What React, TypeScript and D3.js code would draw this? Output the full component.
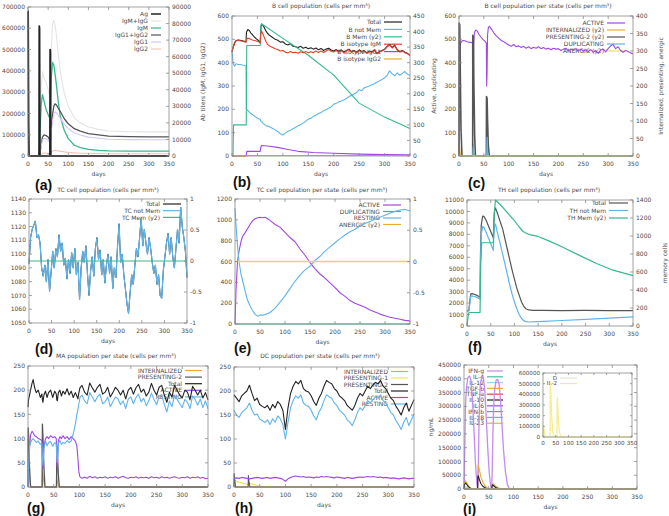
import React from 'react';
import * as d3 from 'd3';

const DAY_TICKS = [0, 50, 100, 150, 200, 250, 300, 350];

// ---------------- (a) antigen & antibodies ----------------
const aAgDays = [0, 0.3, 1.5, 2.5, 27.5, 28, 28.6, 29.5, 54.5, 55, 55.6, 56.5, 350];
const aAgVals = [680000, 680000, 150000, 0, 0, 610000, 600000, 0, 0, 500000, 490000, 0, 0];
const aAbDays = [0, 25, 28, 30, 33, 36, 40, 45, 50, 54, 56, 58, 61, 64, 67, 70, 75, 80, 90, 100, 115, 130, 150, 175, 200, 250, 300, 350];
const aIgMIgG = [0, 0, 2000, 20000, 42000, 51000, 47000, 44000, 40000, 36000, 42000, 66000, 80000, 82000, 79000, 74000, 62000, 51000, 38000, 30000, 23000, 20000, 17500, 16100, 15100, 14700, 14600, 14600];
const aIgM = [0, 0, 1500, 16000, 32000, 37000, 33000, 28000, 25000, 23000, 30000, 48000, 56500, 55000, 50000, 44000, 33000, 24000, 15500, 10500, 6500, 5000, 4000, 3400, 3100, 3000, 3000, 3000];
const aIgG12 = [0, 0, 0, 2000, 7500, 11500, 12700, 12300, 11500, 9500, 10000, 18000, 25000, 30000, 31500, 31000, 29000, 27000, 22500, 19500, 16500, 15000, 13500, 12700, 12000, 11700, 11600, 11600];
const aIgG1 = [0, 0, 0, 1700, 6300, 9700, 10700, 10400, 9700, 8000, 8500, 15000, 21000, 25500, 26700, 26300, 24600, 22900, 19100, 16500, 14000, 12700, 11400, 10700, 10100, 9900, 9800, 9800];
const aIgG2 = [0, 0, 0, 300, 1000, 1600, 1800, 1700, 1600, 1400, 1300, 2400, 3000, 3300, 3400, 3300, 3100, 2900, 2500, 2200, 1900, 1700, 1600, 1500, 1400, 1400, 1400, 1400];

// ---------------- (b) B cell population ----------------
const bDays = [0, 2, 5, 8, 12, 16, 20, 24, 27.5, 28.5, 31, 34, 37, 40, 44, 48, 52, 55.5, 56.5, 58, 61, 64, 67, 70,
  75, 80, 85, 90, 95, 100, 105, 110, 115, 120, 125, 130, 135, 140, 145, 150, 155, 160, 165, 170, 175, 180, 185, 190, 195, 200,
  205, 210, 215, 220, 225, 230, 235, 240, 245, 250, 255, 260, 265, 270, 275, 280, 285, 290, 295, 300, 305, 310, 315, 320, 325, 330, 335, 340, 345, 350];
const bTotal = [446, 465, 485, 495, 497, 496, 494, 492, 490, 530, 542, 538, 527, 520, 510, 502, 495, 485, 540, 565, 560, 548, 535, 525,
  515, 508, 500, 496, 488, 490, 480, 476, 482, 470, 468, 465, 470, 462, 466, 460, 464, 458, 463, 455, 461, 452, 458, 462, 454, 450,
  456, 448, 455, 445, 452, 458, 447, 452, 444, 455, 448, 452, 442, 450, 446, 455, 440, 448, 452, 458, 470, 478, 465, 475, 455, 448, 452, 445, 440, 432];
const bIgM = [446, 462, 482, 493, 496, 494, 492, 490, 488, 500, 505, 503, 500, 497, 495, 493, 490, 486, 520, 536, 522, 505, 490, 478,
  470, 465, 460, 456, 450, 452, 445, 442, 448, 443, 445, 440, 447, 442, 448, 442, 447, 443, 450, 444, 450, 444, 450, 456, 448, 446,
  452, 445, 451, 442, 450, 455, 445, 450, 442, 452, 446, 450, 440, 448, 444, 452, 438, 446, 450, 456, 468, 476, 463, 472, 453, 446, 450, 443, 438, 430];
const bNotMem = [452, 400, 385, 395, 392, 392, 390, 388, 385, 200, 195, 188, 182, 178, 172, 165, 160, 158, 150, 148, 140, 135, 130, 128,
  124, 118, 112, 105, 95, 90, 98, 106, 110, 118, 122, 130, 134, 142, 148, 158, 162, 170, 175, 182, 186, 194, 198, 205, 210, 222,
  226, 232, 236, 240, 246, 255, 260, 266, 272, 285, 280, 292, 296, 300, 305, 310, 316, 322, 328, 335, 345, 365, 352, 344, 356, 346, 354, 362, 350, 346];
const bMemDays = [0, 2, 3, 28, 29, 55.5, 57, 58, 100, 150, 200, 250, 300, 350];
const bMem = [0, 0, 100, 100, 355, 355, 420, 425, 378, 324, 260, 170, 125, 88];
const bIgG1Days = [0, 28, 29, 55.5, 57, 58, 70, 90, 110, 130, 160, 200, 250, 300, 350];
const bIgG1 = [0, 0, 20, 20, 40, 45, 43, 37, 28, 20, 15, 12, 8, 6, 5];
const bIgG2Days = [0, 28, 29, 350];
const bIgG2 = [0, 0, 2, 2];

// ---------------- (c) B cell per state ----------------
const cActDays = [0, 0.8, 1.5, 3, 5, 8, 12, 16, 20, 24, 27, 27.6, 28.4, 29.5, 31, 34, 37, 40, 44, 48, 52, 55, 55.6, 56.4, 57.5, 59, 61, 64, 67, 70,
  75, 80, 85, 90, 95, 100, 105, 110, 115, 120, 125, 130, 135, 140, 145, 150, 155, 160, 165, 170, 175, 180, 185, 190, 195, 200,
  205, 210, 215, 220, 225, 230, 235, 240, 245, 250, 255, 260, 265, 270, 275, 280, 285, 290, 295, 300, 305, 310, 315, 320, 325, 330, 335, 340, 345, 350];
const cAct = [0, 250, 420, 480, 492, 495, 494, 490, 488, 487, 485, 200, 250, 480, 530, 540, 535, 522, 510, 500, 492, 485, 300, 350, 520, 550, 556, 548, 538, 528,
  515, 505, 495, 490, 482, 476, 470, 478, 468, 472, 465, 470, 462, 468, 460, 466, 462, 468, 460, 465, 458, 462, 455, 462, 458, 460,
  452, 458, 462, 450, 458, 455, 460, 450, 458, 450, 455, 448, 456, 445, 452, 440, 454, 458, 446, 460, 472, 478, 460, 468, 452, 445, 452, 448, 442, 438];
const cPresDays = [0, 0.2, 1.5, 2.5, 4, 6, 27.5, 27.8, 29, 30, 31.5, 33, 55, 55.3, 56.5, 57.5, 59, 61, 350];
const cPres = [0, 380, 375, 250, 80, 0, 0, 345, 340, 200, 60, 0, 0, 170, 165, 100, 30, 0, 0];
const cIntDays = [0, 0.3, 1.5, 3, 27.5, 28, 29, 31, 55, 55.5, 56.5, 58, 350];
const cInt = [0, 40, 20, 0, 0, 35, 15, 0, 0, 25, 10, 0, 0];
const cDupDays = [0, 27.5, 28.5, 30, 55.5, 56.5, 58, 350];
const cDup = [0, 0, 40, 0, 0, 80, 0, 0];
const flatDays = [0, 350];
const flatZero = [0, 0];

// ---------------- (d) TC cell population ----------------
const dDays = d3.range(0, 350.01, 3.5);
const dTotal = [1093, 1112, 1118, 1121, 1124, 1112, 1114, 1108, 1090, 1084,
  1092, 1080, 1096, 1073, 1087, 1102, 1090, 1104, 1098, 1114,
  1102, 1108, 1092, 1097, 1082, 1096, 1086, 1101, 1090, 1104,
  1085, 1094, 1067, 1090, 1102, 1094, 1106, 1086, 1070, 1088,
  1098, 1084, 1104, 1112, 1096, 1103, 1085, 1096, 1079, 1092,
  1100, 1086, 1098, 1075, 1090, 1083, 1105, 1122, 1094, 1100,
  1085, 1075, 1064, 1057, 1072, 1085, 1078, 1092, 1104, 1098,
  1112, 1126, 1106, 1118, 1108, 1100, 1112, 1104, 1094, 1086,
  1092, 1078, 1085, 1070, 1068, 1088, 1098, 1108, 1115, 1100,
  1112, 1098, 1090, 1104, 1118, 1108, 1134, 1120, 1112, 1102,
  1083];

// ---------------- (e) TC per state ----------------
const eActDays = [0, 2, 5, 8, 12, 15, 20, 25, 30, 35, 40, 45, 50, 55, 60, 65, 70, 75, 80, 90, 100, 110, 120, 130, 140, 150, 160, 170, 180, 190, 200, 210, 220, 230, 240, 250, 260, 270, 280, 290, 300, 310, 320, 330, 340, 350];
const eAct = [0, 320, 600, 700, 790, 840, 875, 915, 955, 990, 1010, 1020, 1025, 1020, 1025, 1010, 995, 975, 955, 930, 880, 830, 790, 720, 660, 590, 530, 480, 440, 395, 350, 300, 265, 225, 200, 180, 160, 135, 115, 95, 80, 65, 55, 45, 35, 30];
const eRestDays = [0, 2, 5, 8, 12, 15, 20, 25, 30, 35, 40, 45, 50, 55, 60, 70, 80, 90, 100, 110, 120, 130, 140, 150, 160, 170, 180, 190, 200, 210, 220, 230, 240, 250, 260, 270, 280, 290, 300, 310, 320, 330, 340, 350];
const eRest = [1110, 950, 750, 600, 480, 420, 320, 230, 175, 130, 95, 75, 85, 85, 90, 110, 150, 210, 270, 340, 410, 470, 520, 555, 610, 650, 700, 740, 780, 820, 855, 885, 910, 940, 965, 985, 1005, 1025, 1045, 1065, 1080, 1095, 1100, 1085];

// ---------------- (f) TH cell population ----------------
const fTotDays = [0, 4, 6, 8, 12, 20, 27.5, 28.5, 30, 33, 36, 40, 45, 50, 55.5, 56.5, 58, 60, 65, 70, 75, 80, 85, 90, 95, 100, 105, 110, 115, 120, 125, 130, 140, 160, 200, 250, 300, 350];
const fTot = [1300, 1350, 2200, 2800, 2820, 2700, 2500, 6500, 8800, 9600, 9550, 9250, 8750, 8250, 7700, 9000, 10000, 10300, 9750, 9100, 8500, 7600, 6700, 5800, 4900, 4100, 3300, 2700, 2100, 1700, 1480, 1400, 1370, 1360, 1350, 1360, 1340, 1350];
const fNotDays = [0, 4, 6, 8, 12, 20, 27.5, 28.5, 30, 33, 36, 40, 45, 50, 55.5, 56.5, 58, 60, 65, 70, 75, 80, 85, 90, 95, 100, 105, 110, 115, 120, 125, 130, 150, 200, 250, 300, 350];
const fNot = [1300, 1320, 2000, 2600, 2620, 2520, 2350, 6000, 8000, 8700, 8600, 8200, 7700, 7200, 6600, 7800, 8700, 8900, 8000, 7200, 6300, 5400, 4500, 3600, 2800, 2100, 1500, 1000, 650, 450, 380, 350, 380, 480, 580, 680, 800];
const fMemDays = [0, 3, 5, 27.5, 29, 31, 55.5, 57.5, 60, 70, 80, 90, 100, 110, 118, 125, 132, 150, 175, 200, 237, 273, 308, 350];
const fMem = [0, 140, 150, 150, 700, 925, 925, 1250, 1400, 1350, 1290, 1230, 1170, 1100, 1050, 1030, 1015, 995, 940, 880, 785, 695, 620, 560];

// ---------------- (g) MA per state ----------------
const gDays = [0, 1, 3, 5, 8, 10, 13, 16, 20, 24, 27, 28, 29, 31, 34, 37, 40, 44, 48, 52, 55, 56, 57, 59, 62, 65, 68, 72, 76, 80, 84, 88, 92, 95, 97, 99, 101,
  105, 110, 115, 120, 125, 130, 135, 140, 145, 150, 155, 160, 165, 170, 175, 180, 185, 190, 195, 200, 205, 210, 215, 220, 225,
  230, 235, 240, 245, 250, 255, 260, 265, 270, 275, 280, 285, 290, 295, 300, 305, 310, 315, 320, 325, 330, 335, 340, 345, 350];
const gTotal = [165, 180, 190, 200, 215, 222, 205, 195, 200, 185, 192, 180, 175, 190, 198, 185, 195, 200, 185, 198, 192, 180, 178, 195, 200, 188, 198, 192, 203, 190, 198, 185, 195, 188, 182, 195, 205,
  210, 196, 190, 215, 205, 196, 206, 212, 192, 196, 206, 186, 195, 206, 200, 190, 200, 182, 200, 206, 192, 205, 212, 196, 202,
  188, 196, 214, 200, 190, 206, 210, 190, 175, 196, 186, 210, 200, 190, 184, 200, 196, 180, 208, 200, 190, 200, 184, 195, 180];
const gActive = [0, 20, 80, 108, 115, 112, 106, 104, 100, 98, 96, 60, 40, 85, 100, 104, 100, 106, 102, 104, 100, 50, 40, 95, 104, 100, 106, 100, 104, 98, 104, 100, 95, 85, 60, 30, 21,
  18, 20, 18, 22, 19, 21, 18, 20, 19, 21, 18, 20, 19, 21, 18, 20, 22, 19, 18, 20, 19, 21, 18, 20, 19,
  20, 18, 21, 19, 20, 18, 21, 19, 20, 18, 20, 21, 19, 18, 20, 19, 21, 18, 20, 19, 21, 18, 20, 17, 18];
const gResting = [0, 40, 85, 92, 98, 100, 96, 92, 95, 88, 90, 60, 45, 80, 95, 85, 92, 94, 84, 92, 88, 60, 50, 90, 96, 88, 92, 90, 96, 92, 95, 110, 130, 150, 160, 172, 185,
  190, 178, 172, 195, 186, 176, 186, 192, 172, 176, 186, 166, 176, 186, 182, 170, 178, 162, 182, 186, 172, 185, 192, 176, 183,
  168, 178, 194, 181, 170, 188, 190, 171, 155, 178, 166, 190, 181, 172, 164, 181, 175, 162, 188, 181, 169, 182, 164, 178, 162];
const gIntDays = [0, 0.5, 2, 4, 6, 27.5, 28, 29.5, 31.5, 33, 55, 55.5, 57, 59, 61, 350];
const gInt = [0, 35, 25, 8, 0, 0, 30, 20, 5, 0, 0, 20, 12, 3, 0, 0];
const gPresDays = [0, 0.4, 1.5, 3, 5, 27.5, 28, 29, 31, 33, 55.5, 56, 57, 59, 61, 350];
const gPres = [0, 122, 100, 40, 0, 0, 130, 105, 40, 0, 0, 86, 70, 25, 0, 0];

// ---------------- (h) DC per state ----------------
const hDays = d3.range(0, 351, 5);
const hTotal = [192, 185, 178, 190, 195, 200, 212, 195, 180, 185,
  172, 168, 165, 170, 160, 172, 165, 178, 172, 160,
  120, 165, 195, 210, 220, 215, 222, 205, 200, 198,
  190, 178, 170, 185, 195, 210, 222, 218, 215, 205,
  200, 190, 185, 180, 170, 165, 160, 170, 185, 195,
  190, 200, 210, 205, 212, 218, 215, 222, 210, 205,
  195, 185, 180, 168, 160, 150, 165, 175, 158, 170,
  182];
const hResting = [160, 150, 145, 155, 160, 165, 175, 160, 150, 152,
  142, 138, 134, 140, 130, 142, 135, 148, 142, 130,
  100, 135, 165, 180, 190, 185, 192, 175, 170, 168,
  160, 148, 140, 155, 165, 180, 192, 188, 185, 175,
  170, 160, 155, 150, 140, 135, 128, 140, 155, 165,
  160, 170, 180, 175, 182, 188, 185, 192, 180, 175,
  165, 155, 150, 138, 130, 120, 135, 145, 128, 140,
  152];
const hActive = [18, 19, 18, 20, 19, 18, 17, 18, 19, 20,
  19, 18, 19, 20, 18, 19, 20, 19, 18, 16,
  12, 17, 20, 22, 23, 22, 21, 22, 20, 21,
  20, 19, 21, 20, 22, 21, 22, 21, 20, 19,
  21, 20, 19, 18, 20, 19, 18, 19, 20, 21,
  20, 21, 22, 21, 22, 21, 20, 21, 19, 20,
  19, 18, 19, 18, 17, 18, 19, 18, 17, 18,
  18];
const hIntDays = [0, 0.5, 3, 27.5, 28, 30, 350];
const hInt = [0, 6, 0, 0, 5, 0, 0];
const hP1Days = [0, 1, 5, 10, 20, 28, 29, 35, 45, 60, 350];
const hP1 = [0, 14, 12, 10, 7, 5, 9, 6, 3, 0, 0];
const hP2Days = [0, 0.3, 1.5, 3, 27.5, 28, 29, 31, 350];
const hP2 = [0, 28, 15, 0, 0, 24, 12, 0, 0];

// ---------------- (i) cytokines ----------------
const iIfngDays = [0, 1, 2, 3, 5, 8, 11, 14, 17, 20, 23, 26, 27.5, 28, 29, 30, 31.5, 33, 36, 39, 42, 45, 48, 51, 54, 56, 57, 58.5, 60, 62, 65, 68, 71, 74, 77, 80, 84, 88, 92, 350];
const iIfng = [0, 80000, 200000, 300000, 370000, 405000, 410000, 395000, 330000, 220000, 100000, 20000, 0,
  0, 80000, 200000, 320000, 380000, 408000, 405000, 360000, 260000, 150000, 60000, 10000, 0,
  60000, 200000, 300000, 360000, 395000, 398000, 380000, 320000, 230000, 140000, 60000, 15000, 0, 0];
const iTgfDays = [0, 1, 3, 6, 10, 15, 27.5, 28, 29, 31, 34, 38, 43, 50, 56, 57, 59, 63, 68, 75, 350];
const iTgf = [0, 25000, 30000, 22000, 10000, 0, 0, 60000, 88000, 70000, 45000, 25000, 10000, 0, 0, 15000, 18000, 12000, 5000, 0, 0];
const iIl10Days = [0, 1, 3, 5, 8, 12, 18, 27.5, 28, 29, 31, 34, 38, 45, 56, 57, 58, 61, 65, 72, 350];
const iIl10 = [0, 15000, 22000, 18000, 10000, 4000, 0, 0, 45000, 48000, 35000, 20000, 10000, 2000, 0, 12000, 15000, 10000, 4000, 0, 0];
const iIl12Days = [0, 2, 5, 10, 15, 56, 58, 61, 66, 72, 350];
const iIl12 = [0, 8000, 6000, 2000, 0, 0, 15000, 12000, 5000, 0, 0];
const iIl2Days = [0, 0.5, 2, 4, 7, 10, 14, 28, 28.5, 30, 32, 35, 38, 42, 46, 55, 55.5, 57, 59, 62, 66, 72, 350];
const iIl2 = [0, 90000, 106000, 70000, 30000, 8000, 0, 0, 480000, 510000, 330000, 160000, 60000, 15000, 0, 0, 300000, 370000, 230000, 100000, 30000, 0, 0];

const range = (a: number, b: number, s: number) => d3.range(a, b + s / 2, s);

// ---------------- colours ----------------
const K = {
  black: '#222222', grey: '#555555', purple: '#a247e4', green: '#36b98c', blue: '#5fb4ea',
  orange: '#efaa35', yellow: '#efe35a', red: '#e6402c', light: '#e4e4e4', lav: '#d4c8f6', pink: '#f6c4b6',
  violet: '#c48bf2', teal: '#3fc2a8', sky: '#8fd2f2', navy: '#5a2aa8'
};

const FONT = 'DejaVu Sans, Verdana, sans-serif';
const TXT = '#4a4a4a';
const AX = '#8a8a8a';

type S = { x: number[]; y: number[]; c: string; w?: number; y2?: boolean };
type L = { t: string; c: string; w?: number };
type P = {
  id: string; l: number; r: number; t: number; b: number;
  yDom: [number, number]; yTicks: number[];
  y2Dom?: [number, number]; y2Ticks?: number[];
  series: S[]; legend: L[]; legX: number; legY: number; legDy: number; legW: number;
  fs?: number; days?: boolean; bg?: boolean; tick?: number; xOff?: number; yOff?: number;
};

function Panel(p: P) {
  const x = d3.scaleLinear().domain([0, 350]).range([p.l, p.r]);
  const y = d3.scaleLinear().domain(p.yDom).range([p.b, p.t]);
  const y2 = p.y2Dom ? d3.scaleLinear().domain(p.y2Dom).range([p.b, p.t]) : null;
  const fs = p.fs ?? 6;
  const tk = p.tick ?? 3;
  const xOff = p.xOff ?? 8;
  const yOff = p.yOff ?? 3;
  const clip = `clip-${p.id}`;
  return (
    <g fontFamily={FONT} fontSize={fs} fill={TXT}>
      <clipPath id={clip}>
        <rect x={p.l - 1} y={p.t - 1} width={p.r - p.l + 2} height={p.b - p.t + 2} />
      </clipPath>
      {p.bg && <rect x={p.l} y={p.t} width={p.r - p.l} height={p.b - p.t} fill="#fff" />}
      {p.legend.map((e, i) => {
        const ly = p.legY + i * p.legDy;
        return (
          <g key={'lg' + i}>
            <text x={p.legX} y={ly} dy="0.35em" textAnchor="end">{e.t}</text>
            <line x1={p.legX + 3} x2={p.legX + 3 + p.legW} y1={ly} y2={ly} stroke={e.c} strokeWidth={e.w ?? 1.2} />
          </g>
        );
      })}
      <g clipPath={`url(#${clip})`}>
        {p.series.map((s, i) => {
          const sc = s.y2 && y2 ? y2 : y;
          const gen = d3.line<number>().x((_, j) => x(s.x[j])).y((v) => sc(v));
          return <path key={'s' + i} d={gen(s.y) || ''} fill="none" stroke={s.c} strokeWidth={s.w ?? 1.1} strokeLinejoin="round" />;
        })}
      </g>
      <rect x={p.l} y={p.t} width={p.r - p.l} height={p.b - p.t} fill="none" stroke={AX} strokeWidth={0.8} />
      {DAY_TICKS.map((v) => (
        <g key={'x' + v}>
          <line x1={x(v)} x2={x(v)} y1={p.b} y2={p.b - tk} stroke={AX} strokeWidth={0.8} />
          <line x1={x(v)} x2={x(v)} y1={p.t} y2={p.t + tk} stroke={AX} strokeWidth={0.8} />
          <text x={x(v)} y={p.b + xOff} dy="0.35em" textAnchor="middle">{v}</text>
        </g>
      ))}
      {p.yTicks.map((v) => (
        <g key={'y' + v}>
          <line x1={p.l} x2={p.l + tk} y1={y(v)} y2={y(v)} stroke={AX} strokeWidth={0.8} />
          {!y2 && <line x1={p.r} x2={p.r - tk} y1={y(v)} y2={y(v)} stroke={AX} strokeWidth={0.8} />}
          <text x={p.l - yOff} y={y(v)} dy="0.35em" textAnchor="end">{v}</text>
        </g>
      ))}
      {y2 && p.y2Ticks && p.y2Ticks.map((v) => (
        <g key={'y2' + v}>
          <line x1={p.r} x2={p.r - tk} y1={y2(v)} y2={y2(v)} stroke={AX} strokeWidth={0.8} />
          <text x={p.r + yOff} y={y2(v)} dy="0.35em" textAnchor="start">{v}</text>
        </g>
      ))}
      {p.days !== false && (
        <text x={(p.l + p.r) / 2} y={p.b + 17.5} dy="0.35em" textAnchor="middle">days</text>
      )}
    </g>
  );
}

const Tag = ({ x, y, t }: { x: number; y: number; t: string }) => (
  <text x={x} y={y} fontFamily="Liberation Sans, Arial, sans-serif" fontWeight="bold" fontSize={14} fill="#111">{t}</text>
);
const Title = ({ x, y, t }: { x: number; y: number; t: string }) => (
  <text x={x} y={y} fontFamily={FONT} fontSize={6} fill={TXT} textAnchor="middle">{t}</text>
);
const VLabel = ({ x, y, t }: { x: number; y: number; t: string }) => (
  <text transform={`translate(${x},${y}) rotate(-90)`} fontFamily={FONT} fontSize={6} fill={TXT} textAnchor="middle" dy="0.35em">{t}</text>
);

export default function App() {
  const pa: P = {
    id: 'a', l: 28, r: 169, t: 7, b: 156,
    yDom: [0, 700000], yTicks: range(0, 700000, 100000),
    y2Dom: [0, 90000], y2Ticks: range(0, 90000, 10000),
    legX: 148, legY: 14, legDy: 7, legW: 10,
    legend: [
      { t: 'Ag', c: K.black, w: 1.5 }, { t: 'IgM+IgG', c: K.light }, { t: 'IgM', c: K.green },
      { t: 'IgG1+IgG2', c: K.grey }, { t: 'IgG1', c: K.lav }, { t: 'IgG2', c: K.pink },
    ],
    series: [
      { x: aAbDays, y: aIgMIgG, c: K.light, y2: true },
      { x: aAbDays, y: aIgM, c: K.green, y2: true, w: 1.3 },
      { x: aAbDays, y: aIgG12, c: K.grey, y2: true, w: 1.3 },
      { x: aAbDays, y: aIgG1, c: K.lav, y2: true },
      { x: aAbDays, y: aIgG2, c: K.pink, y2: true },
      { x: aAgDays, y: aAgVals, c: K.black, w: 1.8 },
    ],
  };
  const pb: P = {
    id: 'b', l: 232, r: 410, t: 16, b: 156,
    yDom: [0, 600], yTicks: range(0, 600, 100),
    y2Dom: [0, 450], y2Ticks: range(0, 450, 50),
    legX: 381, legY: 22, legDy: 7.4, legW: 18,
    legend: [
      { t: 'Total', c: K.black }, { t: 'B not Mem', c: K.blue }, { t: 'B Mem (y2)', c: K.green },
      { t: 'B isotype IgM', c: K.red }, { t: 'B isotype IgG1', c: K.purple }, { t: 'B isotype IgG2', c: K.orange },
    ],
    series: [
      { x: bDays, y: bTotal, c: K.black },
      { x: bDays, y: bNotMem, c: K.blue },
      { x: bMemDays, y: bMem, c: K.green, y2: true },
      { x: bDays, y: bIgM, c: K.red },
      { x: bIgG1Days, y: bIgG1, c: K.purple },
      { x: bIgG2Days, y: bIgG2, c: K.orange },
    ],
  };
  const pc: P = {
    id: 'c', l: 459, r: 633, t: 16, b: 156,
    yDom: [0, 600], yTicks: range(0, 600, 100),
    y2Dom: [0, 400], y2Ticks: range(0, 400, 50),
    legX: 604, legY: 23, legDy: 7, legW: 18,
    legend: [
      { t: 'ACTIVE', c: K.purple }, { t: 'INTERNALIZED (y2)', c: K.orange }, { t: 'PRESENTING-2 (y2)', c: K.grey },
      { t: 'DUPLICATING', c: K.blue }, { t: 'ANERGIC (y2)', c: K.yellow },
    ],
    series: [
      { x: cActDays, y: cAct, c: K.purple },
      { x: cIntDays, y: cInt, c: K.orange, y2: true },
      { x: cPresDays, y: cPres, c: K.grey, y2: true, w: 1.6 },
      { x: cDupDays, y: cDup, c: K.blue },
      { x: flatDays, y: flatZero, c: K.yellow, y2: true },
    ],
  };
  const pd: P = {
    id: 'd', l: 29, r: 187, t: 199, b: 323,
    yDom: [1050, 1140], yTicks: range(1050, 1140, 10),
    y2Dom: [-1, 1], y2Ticks: [-1, -0.5, 0, 0.5, 1],
    legX: 160, legY: 204, legDy: 6.7, legW: 18,
    legend: [
      { t: 'Total', c: K.black }, { t: 'TC not Mem', c: K.blue }, { t: 'TC Mem (y2)', c: K.green },
    ],
    series: [
      { x: dDays, y: dTotal, c: K.black, w: 1 },
      { x: dDays, y: dTotal, c: K.blue, w: 1.2 },
      { x: flatDays, y: flatZero, c: K.green, y2: true },
    ],
  };
  const pe: P = {
    id: 'e', l: 235, r: 410, t: 199, b: 324,
    yDom: [0, 1200], yTicks: range(0, 1200, 200),
    y2Dom: [-1, 1], y2Ticks: [-1, -0.5, 0, 0.5, 1],
    legX: 380, legY: 205, legDy: 6.5, legW: 18,
    legend: [
      { t: 'ACTIVE', c: K.purple }, { t: 'DUPLICATING', c: K.green }, { t: 'RESTING', c: K.blue }, { t: 'ANERGIC (y2)', c: K.orange },
    ],
    series: [
      { x: eActDays, y: eAct, c: K.purple },
      { x: flatDays, y: flatZero, c: K.green },
      { x: eRestDays, y: eRest, c: K.blue },
      { x: flatDays, y: flatZero, c: '#f3cc7a', y2: true, w: 1.3 },
    ],
  };
  const pf: P = {
    id: 'f', l: 467, r: 633, t: 200, b: 326,
    yDom: [0, 11000], yTicks: range(0, 11000, 1000),
    y2Dom: [0, 1400], y2Ticks: range(0, 1400, 200),
    legX: 606, legY: 203, legDy: 7.5, legW: 19,
    legend: [
      { t: 'Total', c: K.grey }, { t: 'TH not Mem', c: K.blue }, { t: 'TH Mem (y2)', c: K.green },
    ],
    series: [
      { x: fTotDays, y: fTot, c: K.grey, w: 1.2 },
      { x: fNotDays, y: fNot, c: K.blue, w: 1.2 },
      { x: fMemDays, y: fMem, c: K.green, y2: true, w: 1.2 },
    ],
  };
  const pg: P = {
    id: 'g', l: 28, r: 208, t: 366, b: 487,
    yDom: [0, 250], yTicks: range(0, 250, 50),
    legX: 182, legY: 370.5, legDy: 6.6, legW: 17,
    legend: [
      { t: 'INTERNALIZED', c: K.orange }, { t: 'PRESENTING-2', c: K.grey }, { t: 'Total', c: K.black },
      { t: 'ACTIVE', c: K.purple }, { t: 'RESTING', c: K.blue },
    ],
    series: [
      { x: gIntDays, y: gInt, c: K.orange },
      { x: gPresDays, y: gPres, c: K.grey, w: 1.3 },
      { x: gDays, y: gTotal, c: K.black },
      { x: gDays, y: gActive, c: K.purple },
      { x: gDays, y: gResting, c: K.blue },
    ],
  };
  const ph: P = {
    id: 'h', l: 234, r: 414, t: 367, b: 487,
    yDom: [0, 250], yTicks: range(0, 250, 50),
    legX: 388, legY: 371.5, legDy: 6.5, legW: 17,
    legend: [
      { t: 'INTERNALIZED', c: K.orange }, { t: 'PRESENTING-1', c: K.yellow }, { t: 'PRESENTING-2', c: K.grey },
      { t: 'Total', c: K.black }, { t: 'ACTIVE', c: K.purple }, { t: 'RESTING', c: K.blue },
    ],
    series: [
      { x: hIntDays, y: hInt, c: K.orange },
      { x: hP1Days, y: hP1, c: K.yellow },
      { x: hP2Days, y: hP2, c: K.grey },
      { x: hDays, y: hTotal, c: K.black },
      { x: hDays, y: hActive, c: K.purple },
      { x: hDays, y: hResting, c: K.blue },
    ],
  };
  const pi: P = {
    id: 'i', l: 464, r: 637, t: 365, b: 489,
    yDom: [0, 450000], yTicks: range(0, 450000, 50000),
    legX: 484, legY: 371, legDy: 5.8, legW: 16,
    legend: [
      { t: 'IFN-g', c: K.violet }, { t: 'IL-4', c: K.teal }, { t: 'IL-12', c: K.sky }, { t: 'TGF-b', c: K.orange },
      { t: 'TNF-a', c: K.red }, { t: 'IL-10', c: K.black }, { t: 'IL-6', c: K.purple }, { t: 'IFN-b', c: K.green },
      { t: 'IL-18', c: K.blue }, { t: 'IL-23', c: K.orange },
    ],
    series: [
      { x: iIfngDays, y: iIfng, c: K.violet, w: 1.3 },
      { x: flatDays, y: flatZero, c: K.teal },
      { x: iIl12Days, y: iIl12, c: K.sky },
      { x: iTgfDays, y: iTgf, c: K.orange },
      { x: flatDays, y: flatZero, c: K.red },
      { x: iIl10Days, y: iIl10, c: K.black },
      { x: flatDays, y: flatZero, c: K.purple },
      { x: flatDays, y: flatZero, c: K.green },
      { x: flatDays, y: flatZero, c: K.blue },
      { x: flatDays, y: flatZero, c: K.orange },
    ],
  };
  const pi2: P = {
    id: 'i2', l: 543, r: 632, t: 373, b: 437,
    yDom: [0, 600000], yTicks: range(0, 600000, 100000),
    legX: 557, legY: 378, legDy: 5.5, legW: 17, fs: 5.6, days: false, bg: true, tick: 2, xOff: 6, yOff: 3,
    legend: [{ t: 'D', c: K.light }, { t: 'IL-2', c: '#f5ec8a' }],
    series: [
      { x: flatDays, y: flatZero, c: K.light },
      { x: iIl2Days, y: iIl2, c: '#f5ec8a', w: 1.2 },
    ],
  };

  return (
    <svg width={669} height={516} viewBox="0 0 669 516" style={{ position: 'absolute', left: 0, top: 0, background: '#fff' }}>
      <rect x={0} y={0} width={669} height={516} fill="#fff" />
      <Panel {...pa} />
      <Panel {...pb} />
      <Panel {...pc} />
      <Panel {...pd} />
      <Panel {...pe} />
      <Panel {...pf} />
      <Panel {...pg} />
      <Panel {...ph} />
      <Panel {...pi} />
      <Panel {...pi2} />

      <Title x={321} y={8} t="B cell population (cells per mm³)" />
      <Title x={548} y={8} t="B cell population  per state (cells per mm³)" />
      <Title x={108} y={192} t="TC cell population (cells per mm³)" />
      <Title x={322} y={192} t="TC cell population per state (cells per mm³)" />
      <Title x={549} y={192} t="TH cell population (cells per mm³)" />
      <Title x={116} y={358} t="MA population per state (cells per mm³)" />
      <Title x={320} y={358} t="DC population per state (cells per mm³)" />

      <VLabel x={203} y={82} t="Ab titers (IgM, IgG1, IgG2)" />
      <VLabel x={434} y={86} t="Active, duplicating" />
      <VLabel x={661} y={86} t="Internalized, presenting, anergic" />
      <VLabel x={665} y={263} t="memory cells" />
      <VLabel x={431} y={427} t="ng/mL" />

      <Tag x={35} y={190} t="(a)" />
      <Tag x={233} y={187} t="(b)" />
      <Tag x={468} y={188} t="(c)" />
      <Tag x={35} y={354} t="(d)" />
      <Tag x={234} y={353} t="(e)" />
      <Tag x={468} y={352} t="(f)" />
      <Tag x={27} y={513} t="(g)" />
      <Tag x={235} y={513} t="(h)" />
      <Tag x={463} y={514} t="(i)" />
    </svg>
  );
}
